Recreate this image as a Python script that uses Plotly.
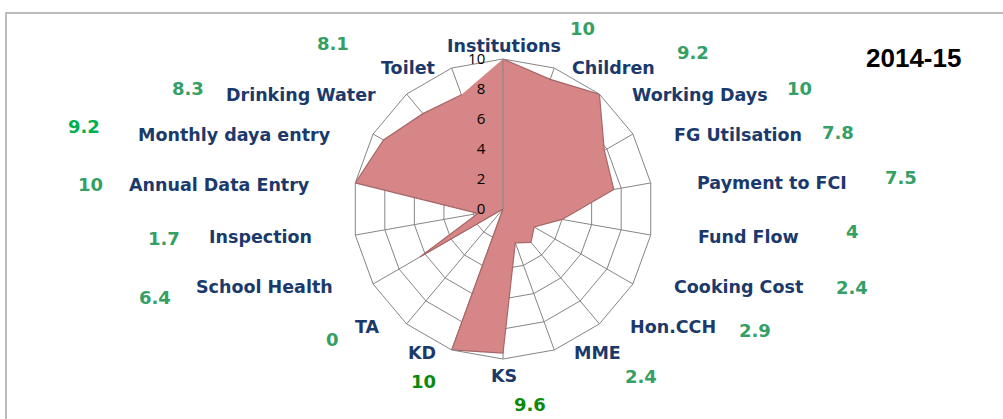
import plotly.graph_objects as go

# ---- data ----
categories = ["Institutions", "Children", "Working Days", "FG Utilsation", "Payment to FCI",
              "Fund Flow", "Cooking Cost", "Hon.CCH", "MME", "KS", "KD", "TA",
              "School Health", "Inspection", "Annual Data Entry", "Monthly daya entry",
              "Drinking Water", "Toilet"]
values = [10, 9.2, 10, 7.8, 7.5, 4, 2.4, 2.9, 2.4, 9.6, 10, 0, 6.4, 1.7, 10, 9.2, 8.3, 8.1]
value_labels = ["10", "9.2", "10", "7.8", "7.5", "4", "2.4", "2.9", "2.4", "9.6", "10", "0",
                "6.4", "1.7", "10", "9.2", "8.3", "8.1"]
radial_ticks = [0, 2, 4, 6, 8, 10]
title_text = "2014-15"

# ---- layout (pixel positions of the hand-placed text boxes) ----
W, H = 1003, 419
cx, cy, R = 503, 209, 150
label_pos = [(504, 46), (613, 68), (700, 95), (738, 135), (772, 183), (748, 237),
             (738, 287), (673, 327), (597, 353), (504, 376), (422, 353), (367, 327),
             (264, 287), (260, 237), (219, 185), (234, 135), (301, 95), (408, 68)]
value_pos = [(582, 29), (693, 52), (799, 89), (838, 132), (901, 178), (852, 231),
             (852, 287), (755, 330), (641, 376), (530, 404), (423, 381), (332, 339),
             (155, 297), (164, 238), (90, 184), (84, 126), (188, 88), (333, 43)]
green = "#34A065"
value_colors = [green] * 18
value_colors[9] = "#0A8A0A"
value_colors[10] = "#0A8A0A"
value_colors[15] = "#00B050"
label_color = "#1B3A6B"
grid_color = "#858585"

fig = go.Figure()
fig.add_trace(go.Scatterpolar(
    r=values, theta=categories, fill="toself", mode="lines",
    fillcolor="#D68686", line=dict(color="#A86666", width=1.2),
    hoverinfo="r+theta", showlegend=False))

annotations = []
for name, (px, py) in zip(categories, label_pos):
    annotations.append(dict(x=px / W, y=1 - py / H, xref="paper", yref="paper",
                            text="<b>%s</b>" % name, showarrow=False,
                            xanchor="center", yanchor="middle",
                            font=dict(family="DejaVu Sans", size=17.5, color=label_color)))
for txt, col, (px, py) in zip(value_labels, value_colors, value_pos):
    annotations.append(dict(x=px / W, y=1 - py / H, xref="paper", yref="paper",
                            text="<b>%s</b>" % txt, showarrow=False,
                            xanchor="center", yanchor="middle",
                            font=dict(family="DejaVu Sans", size=18, color=col)))
annotations.append(dict(x=913 / W, y=1 - 58 / H, xref="paper", yref="paper",
                        text="<b>%s</b>" % title_text, showarrow=False,
                        xanchor="center", yanchor="middle",
                        font=dict(family="Liberation Sans", size=26, color="black")))

fig.update_layout(
    width=W, height=H, margin=dict(l=0, r=0, t=0, b=0),
    paper_bgcolor="white", plot_bgcolor="white",
    polar=dict(
        domain=dict(x=[(cx - R) / W, (cx + R) / W], y=[(H - cy - R) / H, (H - cy + R) / H]),
        gridshape="linear", bgcolor="rgba(0,0,0,0)",
        radialaxis=dict(range=[0, 10], tickvals=radial_ticks, angle=90, side="counterclockwise",
                        tickangle=90, showline=True, linecolor=grid_color, linewidth=1,
                        gridcolor=grid_color, gridwidth=1, layer="above traces",
                        ticks="outside", ticklen=12, tickcolor="rgba(0,0,0,0)",
                        tickfont=dict(family="Open Sans", size=15, color="black")),
        angularaxis=dict(direction="clockwise", rotation=90, showticklabels=False, ticks="",
                         showline=True, linecolor=grid_color, linewidth=1,
                         gridcolor=grid_color, gridwidth=1, layer="above traces")),
    annotations=annotations,
    shapes=[dict(type="rect", xref="paper", yref="paper", x0=6 / W, y0=1 - 13 / H,
                 x1=1.05, y1=-0.05, line=dict(color="#A6A6A6", width=1.5))],
)

fig.write_html("out.html", config={"displayModeBar": False},
               post_script="document.body.style.margin='0';document.body.style.overflow='hidden';")
